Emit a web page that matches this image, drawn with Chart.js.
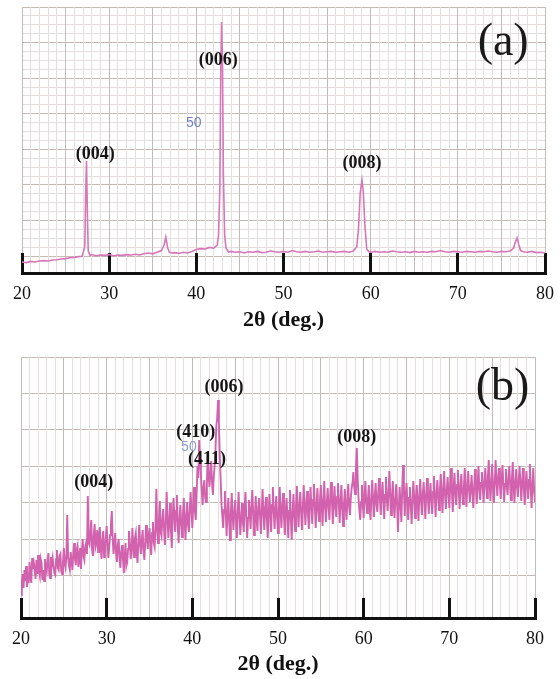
<!DOCTYPE html>
<html><head><meta charset="utf-8">
<script src="https://cdn.jsdelivr.net/npm/chart.js@4"></script>
<style>
html,body{margin:0;padding:0;background:#fff;}
#wrapA{position:absolute;left:0;top:0;width:560px;height:335px;}
#wrapB{position:absolute;left:0;top:335px;width:560px;height:344px;}
</style></head><body>
<div id="wrapA"><canvas id="chartA" width="560" height="335"></canvas></div>
<div id="wrapB"><canvas id="chartB" width="560" height="344"></canvas></div>
<script>
// ---------- data ----------
const twoThetaTicks = [20, 30, 40, 50, 60, 70, 80];
const axisTitle = '2θ (deg.)';

// panel (a): 2θ (deg.) and intensity (arb. units)
const twoThetaA = [
 20,20.5,21,21.5,22,22.5,23,23.5,24,24.5,25,25.5,26,26.5,26.9,27.2,27.3,27.4,27.5,27.6,27.8,
 28,28.5,29,29.5,30,30.5,31,31.5,32,32.5,33,33.5,34,34.5,35,35.5,36,36.3,36.5,36.7,36.9,37.2,37.5,
 38,38.5,39,39.5,40,40.5,41,41.5,42,42.4,42.55,42.7,42.8,42.9,43.0,43.1,43.25,43.4,43.7,
 44,44.5,45,45.5,46,46.5,47,47.5,48,48.5,49,49.5,50,50.5,51,51.5,52,52.5,53,53.5,54,54.5,55,55.5,
 56,56.5,57,57.5,58,58.4,58.6,58.8,59.0,59.15,59.35,59.55,59.8,
 60,60.5,61,61.5,62,62.5,63,63.5,64,64.5,65,65.5,66,66.5,67,67.5,68,68.5,69,69.5,70,70.5,71,71.5,
 72,72.5,73,73.5,74,74.5,75,75.5,76,76.4,76.6,76.8,77.0,77.2,77.5,78,78.5,79,79.5,80
];
const intensityA = [
 55,52,58,55,60,62,60,65,66,70,72,76,78,82,84,130,380,560,300,110,88,
 92,86,90,88,92,86,90,88,92,90,94,90,96,100,96,104,112,140,180,128,104,100,102,
 98,104,100,108,118,122,120,128,124,140,190,430,1000,1255,1050,500,190,125,105,
 108,104,106,100,106,104,108,102,104,110,106,104,108,104,112,106,104,108,104,106,110,104,106,108,
 104,106,108,104,110,130,220,400,465,410,230,120,106,
 104,108,104,106,104,110,106,104,106,102,108,104,106,104,108,106,112,106,104,108,106,104,108,106,
 104,108,106,110,106,104,108,106,110,125,155,175,140,112,106,104,108,102,104,100
];

// panel (b): regularly sampled scan, 20° to 80° in 0.1° steps (one row per degree)
const twoThetaStartB = 20;
const twoThetaStepB = 0.1;
const intensityB = [
 46,72,88,60,96,74,104,62,82,70,
 112,84,70,120,98,110,96,78,116,88,
 126,94,84,118,110,76,96,74,118,100,
 92,114,130,88,80,122,106,120,104,90,
 86,118,136,100,96,124,128,94,88,112,
 140,108,100,126,206,120,104,96,132,114,
 96,128,150,118,106,136,144,102,118,140,
 98,132,158,124,116,142,150,128,244,150,
 146,170,196,136,124,168,188,142,150,176,
 132,160,182,140,118,156,174,122,130,162,
 184,150,120,142,166,188,214,160,128,148,
 170,128,112,146,158,120,100,132,146,118,
 90,122,150,104,112,138,174,150,118,130,
 180,146,122,160,170,132,110,150,186,148,
 128,156,176,134,116,150,186,160,138,164,
 180,152,126,170,192,150,142,182,258,176,
 150,196,234,172,164,200,218,176,146,190,
 252,200,160,192,230,174,140,196,240,206,
 172,214,246,182,150,198,226,188,162,208,
 240,198,156,204,232,186,172,218,252,214,
 180,222,262,214,196,248,304,280,356,318,
 286,254,226,262,276,240,232,270,326,284,
 262,290,314,270,246,282,304,336,384,400,
 436,392,326,280,230,204,180,216,254,214,
 164,206,240,196,156,214,250,204,176,212,
 236,196,160,210,252,204,166,198,230,194,
 172,218,252,206,160,200,236,210,178,224,
 256,212,166,204,244,198,174,222,240,206,
 168,214,258,210,176,220,242,196,160,204,
 248,210,172,226,262,214,178,216,244,200,
 170,218,262,212,180,226,250,200,166,214,
 240,202,160,214,256,198,156,210,248,206,
 174,226,264,216,182,228,252,208,176,222,
 266,222,186,230,254,206,178,226,262,220,
 188,236,268,224,180,226,260,214,194,238,
 266,228,184,234,274,220,192,232,260,224,
 196,240,272,232,188,230,264,222,202,242,
 270,230,190,236,266,218,184,228,258,222,
 196,236,268,224,206,240,260,270,292,262,
 248,300,340,280,240,214,196,232,266,226,
 200,246,274,230,210,238,266,224,196,240,
 276,236,202,244,270,226,212,250,280,238,
 206,244,272,236,198,246,282,238,214,250,
 294,246,206,240,274,228,200,236,268,232,
 172,220,262,228,192,260,306,250,204,244,
 270,232,196,240,262,222,188,236,274,240,
 200,242,266,230,194,246,278,236,206,248,
 272,238,198,246,280,240,208,244,270,236,
 208,252,284,240,202,250,276,242,216,256,
 288,250,210,258,294,246,218,256,282,250,
 220,262,300,254,212,258,290,248,226,266,
 296,256,218,264,288,250,228,262,300,258,
 222,264,294,256,232,262,286,248,220,262,
 298,260,228,266,304,258,236,270,292,262,
 230,272,300,264,240,282,316,270,234,268,
 308,262,230,270,316,276,244,280,300,266,
 238,274,306,270,232,268,298,264,246,280,
 304,268,236,276,312,266,230,270,298,262,
 242,276,304,268,234,272,300,258,226,264,
 294,262,238,276,308,258,220,268,300,254,
 232
];

// annotation texts and their anchor (2θ, intensity)
const peakLabelsA = ['(004)', '(006)', '(008)'];
const peakLabelAtA = [[28.4, 595], [42.5, 1065], [59.0, 550]];
const panelLabelA = '(a)';
const panelLabelAtA = [75.2, 1150];
const markTextA = '50';
const markTextAtA = [39.7, 750];

const peakLabelsB = ['(006)', '(410)', '(411)', '(004)', '(008)'];
const peakLabelAtB = [[43.7, 462], [40.4, 372], [41.7, 318], [28.5, 272], [59.2, 362]];
const panelLabelB = '(b)';
const panelLabelAtB = [76.2, 460];
const markTextB = '50';
const markTextAtB = [39.6, 342];

// ---------- styles ----------
const MAJOR = '#c4bbb7', MINOR = '#e4dfdd';
const SERIF = '"Liberation Serif", "Times New Roman", serif';
const LINE_A = '#d776b8', LINE_B = '#d262ad';

function textPlugin(items) {
  return {
    id: 'panelText',
    afterDatasetsDraw(chart) {
      const {ctx} = chart;
      const x = chart.scales.x, y = chart.scales.y;
      ctx.save();
      ctx.textAlign = 'center';
      ctx.textBaseline = 'middle';
      for (const it of items) {
        ctx.font = it.font;
        ctx.fillStyle = it.color;
        ctx.fillText(it.text, x.getPixelForValue(it.at[0]), y.getPixelForValue(it.at[1]));
      }
      ctx.restore();
    }
  };
}

function buildChart(canvasId, points, cfg) {
  return new Chart(document.getElementById(canvasId), {
    type: 'line',
    data: { datasets: [{
      data: points, xAxisID: 'x', yAxisID: 'y',
      borderColor: cfg.lineColor, borderWidth: cfg.lineWidth,
      pointRadius: 0, tension: 0, fill: false
    }]},
    options: {
      responsive: false, animation: false, events: [],
      layout: { padding: cfg.padding },
      plugins: { legend: {display: false}, tooltip: {enabled: false} },
      scales: {
        yGrid: {
          type: 'linear', position: 'left', min: 0, max: cfg.gridRows, reverse: true,
          ticks: { display: false, stepSize: 1, autoSkip: false },
          grid: { drawTicks: false, z: -1, lineWidth: 1,
                  color: c => (cfg.minorRows ? (c.tick && Math.round(c.tick.value) % 4 === 0 ? MAJOR : MINOR) : MAJOR) },
          border: { display: false }
        },
        x: {
          type: 'linear', position: 'bottom', min: 20, max: 80,
          afterFit: s => { s.height = cfg.axisHeight; s.paddingLeft = 0; s.paddingRight = 0; },
          ticks: {
            stepSize: 1, autoSkip: false, maxRotation: 0, padding: 30, color: '#111',
            font: { family: SERIF, size: 18 },
            callback: v => twoThetaTicks.includes(v) ? String(v) : ''
          },
          grid: {
            z: -0.5, lineWidth: 1, tickLength: -20, tickWidth: 3,
            color: c => (c.tick && Math.round(c.tick.value) % 5 === 0 ? MAJOR : MINOR),
            tickColor: c => (c.tick && twoThetaTicks.includes(c.tick.value) ? '#111' : 'rgba(0,0,0,0)')
          },
          border: { display: true, color: '#111', width: 3 },
          title: { display: true, text: axisTitle, color: '#111',
                   font: { family: SERIF, size: 22, weight: 'bold' }, padding: { top: 0, bottom: 1 } }
        },
        y: { type: 'linear', display: false, min: 0, max: cfg.yMax }
      }
    },
    plugins: [textPlugin(cfg.texts)]
  });
}

function labelItems(labels, at, panel, panelAt, mark, markAt, markColor) {
  const items = [{ text: mark, at: markAt, font: '14px "Liberation Sans", Arial, sans-serif', color: markColor }];
  labels.forEach((t, i) => items.push({ text: t, at: at[i], font: 'bold 18px ' + SERIF, color: '#151515' }));
  items.push({ text: panel, at: panelAt, font: '46px ' + SERIF, color: '#1a1a1a' });
  return items;
}

const pointsA = twoThetaA.map((t, i) => ({ x: t, y: intensityA[i] }));
const pointsB = intensityB.map((v, i) => ({ x: Math.round((twoThetaStartB + i * twoThetaStepB) * 10) / 10, y: v }));

buildChart('chartA', pointsA, {
  lineColor: LINE_A, lineWidth: 1.6,
  padding: { left: 22, right: 15, top: 7, bottom: 0 },
  axisHeight: 62, gridRows: 29.9, minorRows: true, yMax: 1330,
  texts: labelItems(peakLabelsA, peakLabelAtA, panelLabelA, panelLabelAtA, markTextA, markTextAtA, '#6f80c2')
});
buildChart('chartB', pointsB, {
  lineColor: LINE_B, lineWidth: 1.9,
  padding: { left: 21, right: 25, top: 22, bottom: 0 },
  axisHeight: 61, gridRows: 7.17, minorRows: false, yMax: 522,
  texts: labelItems(peakLabelsB, peakLabelAtB, panelLabelB, panelLabelAtB, markTextB, markTextAtB, '#8a9ed8')
});
</script>
</body></html>
